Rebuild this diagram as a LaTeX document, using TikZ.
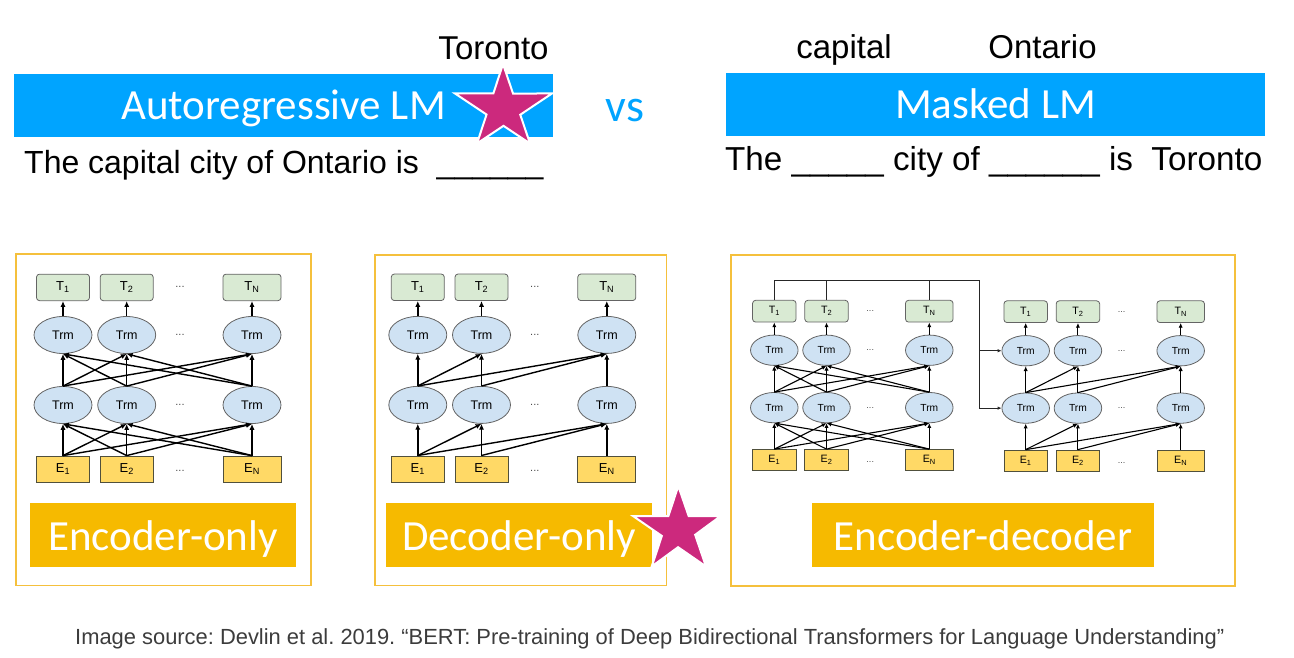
\documentclass[tikz,border=0pt]{standalone}
\usepackage{fontspec}
\setmainfont{Liberation Sans}
\newfontfamily\titlefont{Carlito}
\usetikzlibrary{arrows.meta,shapes.geometric}
\frenchspacing
\definecolor{barblue}{RGB}{0,164,255}
\definecolor{starpink}{RGB}{204,41,125}
\definecolor{labyellow}{RGB}{246,186,0}
\definecolor{panelyellow}{RGB}{245,192,60}
\definecolor{tgreen}{RGB}{217,234,211}
\definecolor{trmblue}{RGB}{207,226,243}
\definecolor{eyellow}{RGB}{255,217,102}
\definecolor{boxgray}{RGB}{100,100,100}
\definecolor{eborder}{RGB}{80,80,60}
\definecolor{capgray}{RGB}{60,60,60}
\tikzset{
  tbox/.style={draw=boxgray, fill=tgreen, rounded corners=3pt, minimum width=53pt, minimum height=26.5pt, inner sep=0pt, line width=0.8pt, font=\fontsize{13}{13}\selectfont},
  trm/.style={ellipse, draw=boxgray, fill=trmblue, minimum width=58pt, minimum height=37pt, inner sep=0pt, line width=0.8pt, font=\fontsize{12.5}{13}\selectfont},
  ebox/.style={draw=eborder, fill=eyellow, minimum width=53pt, minimum height=26pt, inner sep=0pt, line width=0.8pt, font=\fontsize{13}{13}\selectfont},
  dotsty/.style={inner sep=0pt, text=black!70, font=\fontsize{11}{11}\selectfont},
  arr/.style={-{Latex[length=1pt 3.5, width=1pt 3]}, line width=#1},
  panel/.style={draw=panelyellow, line width=1.8pt},
  bar/.style={fill=barblue, text=white, inner sep=0pt, minimum width=539pt, minimum height=63pt, text height=34pt, text depth=5.5pt, font=\titlefont\fontsize{43}{44}\selectfont},
  lab/.style={fill=labyellow, text=white, inner sep=0pt, minimum height=63.5pt, text height=35pt, text depth=5pt, font=\titlefont\fontsize{43}{44}\selectfont},
  top/.style={inner sep=0pt, anchor=base, font=\fontsize{33}{34}\selectfont},
  sent/.style={inner sep=0pt, anchor=base west, font=\fontsize{32}{33}\selectfont},
  starsty/.style={fill=starpink, draw=white, line width=2pt, line join=miter},
  bus/.style={line width=1pt, draw=black!85},
  busarr/.style={bus, -{Latex[length=4pt, width=3.5pt]}}
}
\newcommand\bertnet[6]{%
\begin{scope}[shift={(#2,#3)}, scale=#4, transform shape]
  \foreach \c/\x in {1/0,2/63.7} {
    \node[tbox] (#1T\c) at (\x,0) {T\textsubscript{\c}};
    \node[trm] (#1U\c) at (\x,47.6) {Trm};
    \node[trm] (#1L\c) at (\x,117.6) {Trm};
    \node[ebox] (#1E\c) at (\x,181.6) {E\textsubscript{\c}};
  }
  \node[tbox, minimum width=58pt] (#1TN) at (189,0) {T\textsubscript{N}};
  \node[trm] (#1UN) at (189,47.6) {Trm};
  \node[trm] (#1LN) at (189,117.6) {Trm};
  \node[ebox, minimum width=58pt] (#1EN) at (189,181.6) {E\textsubscript{N}};
  \node[dotsty] (#1dT) at (117,0) {...};
  \node[dotsty] (#1dU) at (117,47.6) {...};
  \node[dotsty] (#1dL) at (117,117.6) {...};
  \node[dotsty] (#1dE) at (117,184) {...};
\end{scope}
\foreach \c in {1,2,N} {\draw[arr=#6] (#1U\c.north) -- (#1T\c.south);}
\ifnum#5=1
  \foreach \a/\b in {1/1,1/2,1/N,2/2,2/N,N/N} {
    \draw[arr=#6] (#1L\a.north) -- (#1U\b.south);
    \draw[arr=#6] (#1E\a.north) -- (#1L\b.south);
  }
\else
  \foreach \a in {1,2,N} {\foreach \b in {1,2,N} {
    \draw[arr=#6] (#1L\a.north) -- (#1U\b.south);
    \draw[arr=#6] (#1E\a.north) -- (#1L\b.south);
  }}
\fi
}
\newcommand\mystar[6]{% #1 name, #2..#6 top,right,bottomright,bottomleft,left
  \coordinate (#1t) at (#2); \coordinate (#1r) at (#3); \coordinate (#1br) at (#4);
  \coordinate (#1bl) at (#5); \coordinate (#1l) at (#6);
  \path[starsty] (#1t) -- (intersection of #1t--#1br and #1l--#1r) -- (#1r)
    -- (intersection of #1r--#1bl and #1br--#1t) -- (#1br)
    -- (intersection of #1br--#1l and #1bl--#1r) -- (#1bl)
    -- (intersection of #1bl--#1t and #1l--#1br) -- (#1l)
    -- (intersection of #1l--#1r and #1t--#1bl) -- cycle;
}
\begin{document}
\begin{tikzpicture}[x=1pt,y=-1pt]
\useasboundingbox (0,0) rectangle (1294,658);

% top left
\node[bar] (arbar) at (283.5,105.75) {Autoregressive LM};
\node[top] (toronto) at (493.5,59.5) {Toronto};
\node[sent] (arsent) at (24,173.5) {The capital city of Ontario is\ \ \_\_\_\_\_\_};
\mystar{sa}{503,64}{552,93.5}{530,143.5}{477,143.5}{455,93.5}
\node[inner sep=0pt, anchor=base, text=barblue, font=\titlefont\fontsize{46}{46}\selectfont] (vs) at (625,121.5) {vs};

% top right
\node[bar] (mlmbar) at (995.5,104.25) {Masked LM};
\node[top] (capital) at (844,59) {capital};
\node[top] (ontario) at (1042.5,59) {Ontario};
\node[sent, font=\fontsize{33.2}{34}\selectfont] (mlmsent) at (725,170.5) {The \_\_\_\_\_ city of \_\_\_\_\_\_ is\ \ Toronto};

% panels
\draw[panel] (16,254) rectangle (311,585.5);
\draw[panel] (375,255) rectangle (666.5,585.5);
\draw[panel] (731,255) rectangle (1235,586);

\bertnet{A}{63}{287.4}{1}{0}{1.4pt}
\bertnet{B}{417.8}{287.3}{1}{1}{1.4pt}
\bertnet{C}{774.3}{311.2}{0.82}{0}{1.1pt}
\bertnet{D}{1025.7}{311.7}{0.82}{1}{1.1pt}

% encoder -> decoder connections
\coordinate (busR) at (979.3,280.7);
\draw[busarr] (CT1.north) |- (busR) |- (DL1.west);
\draw[busarr] (busR |- DU1) -- (DU1.west);
\draw[bus] (CT2.north) -- (CT2.north |- busR);
\draw[bus] (CTN.north) -- (CTN.north |- busR);

% labels
\node[lab, minimum width=266pt] (enclab) at (163,535) {Encoder-only};
\node[lab, minimum width=266pt] (declab) at (519,535) {Decoder-only};
\node[lab, minimum width=342pt] (edlab) at (983,535) {Encoder-decoder};
\mystar{sb}{678.3,486}{720.7,516}{706,566.5}{651.7,566.5}{633,516}

% caption
\node[inner sep=0pt, anchor=base west, text=capgray, font=\fontsize{21.9}{22}\selectfont] (caption) at (75,644) {Image source: Devlin et al. 2019. “BERT: Pre-training of Deep Bidirectional Transformers for Language Understanding”};
\end{tikzpicture}
\end{document}
